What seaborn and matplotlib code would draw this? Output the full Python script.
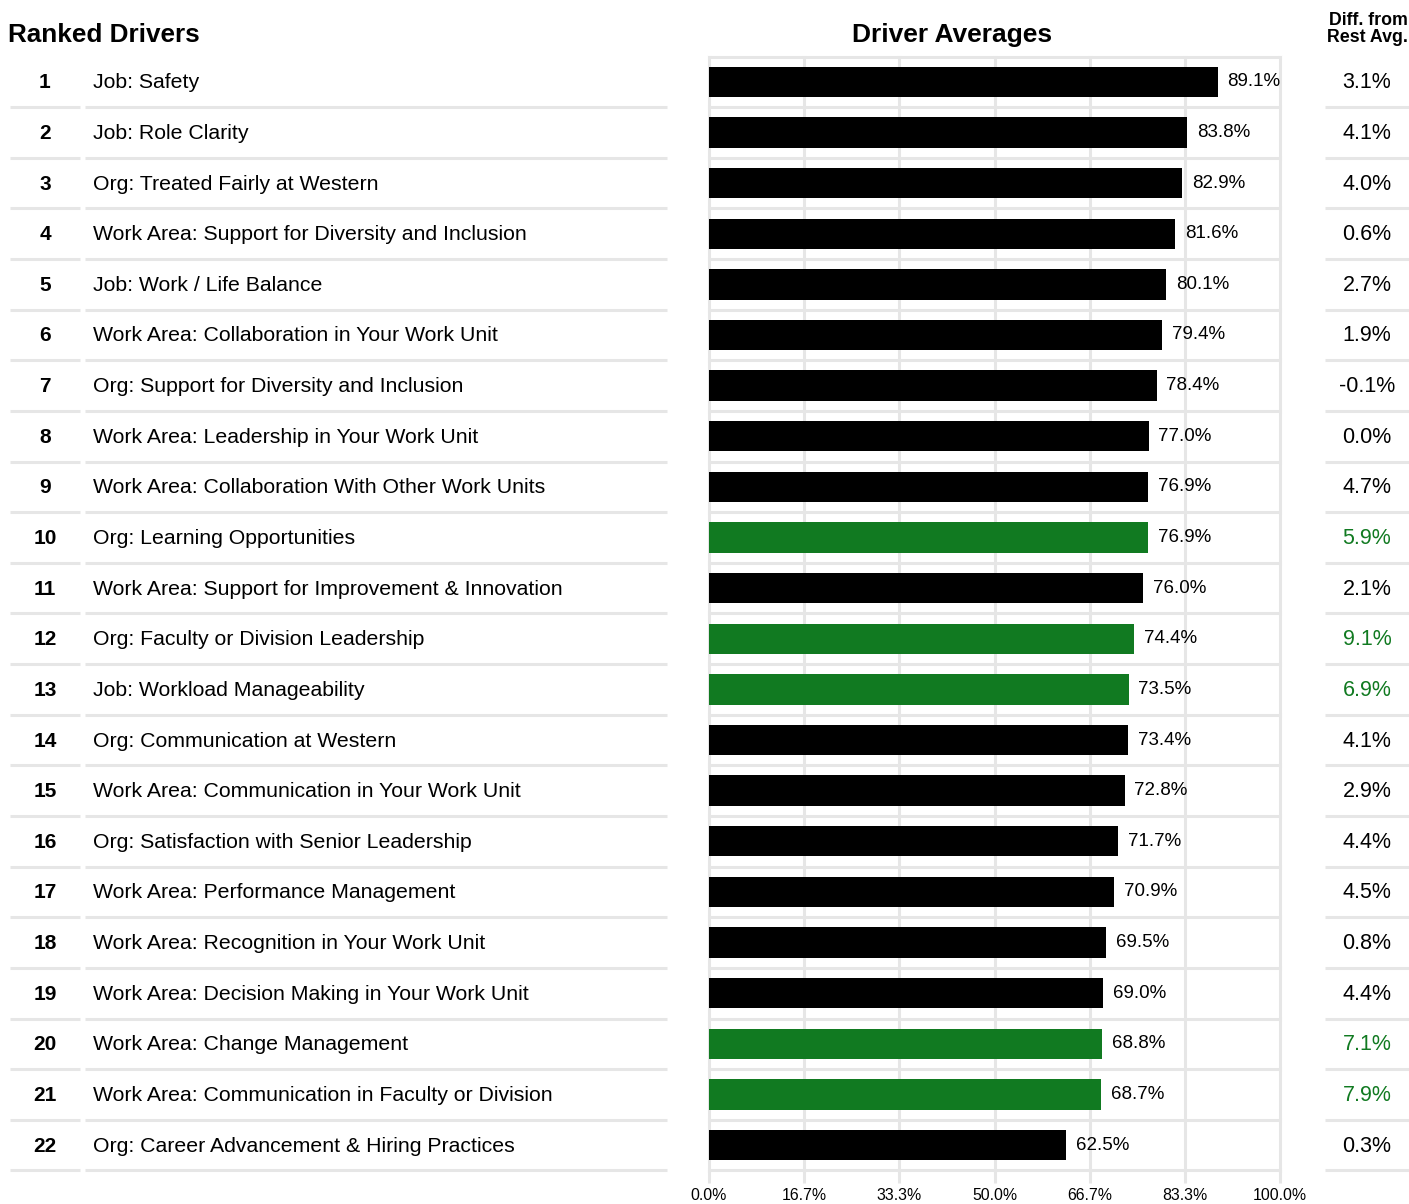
import numpy as np
import pandas as pd
import matplotlib
matplotlib.use("Agg")
import matplotlib.pyplot as plt
import seaborn as sns

# -----------------------------
# DATA
# -----------------------------
drivers = [
    "Job: Safety",
    "Job: Role Clarity",
    "Org: Treated Fairly at Western",
    "Work Area: Support for Diversity and Inclusion",
    "Job: Work / Life Balance",
    "Work Area: Collaboration in Your Work Unit",
    "Org: Support for Diversity and Inclusion",
    "Work Area: Leadership in Your Work Unit",
    "Work Area: Collaboration With Other Work Units",
    "Org: Learning Opportunities",
    "Work Area: Support for Improvement & Innovation",
    "Org: Faculty or Division Leadership",
    "Job: Workload Manageability",
    "Org: Communication at Western",
    "Work Area: Communication in Your Work Unit",
    "Org: Satisfaction with Senior Leadership",
    "Work Area: Performance Management",
    "Work Area: Recognition in Your Work Unit",
    "Work Area: Decision Making in Your Work Unit",
    "Work Area: Change Management",
    "Work Area: Communication in Faculty or Division",
    "Org: Career Advancement & Hiring Practices",
]
averages = [89.1, 83.8, 82.9, 81.6, 80.1, 79.4, 78.4, 77.0, 76.9, 76.9, 76.0,
            74.4, 73.5, 73.4, 72.8, 71.7, 70.9, 69.5, 69.0, 68.8, 68.7, 62.5]
diffs = [3.1, 4.1, 4.0, 0.6, 2.7, 1.9, -0.1, 0.0, 4.7, 5.9, 2.1,
         9.1, 6.9, 4.1, 2.9, 4.4, 4.5, 0.8, 4.4, 7.1, 7.9, 0.3]
highlight = [False, False, False, False, False, False, False, False, False, True, False,
             True, True, False, False, False, False, False, False, True, True, False]
ranks = list(range(1, len(drivers) + 1))
x_ticks = [0.0, 16.7, 33.3, 50.0, 66.7, 83.3, 100.0]

GREEN = "#117a21"
GRID = "#e6e6e6"

df = pd.DataFrame({"driver": drivers, "avg": averages, "diff": diffs, "hl": highlight})

# -----------------------------
# FIGURE LAYOUT (pixel based)
# -----------------------------
W, H = 1409, 1204
plt.rcParams["font.family"] = ["Liberation Sans", "DejaVu Sans"]
fig = plt.figure(figsize=(W / 100, H / 100), dpi=100)

top_px, bot_px = 56.5, 1170.4
x0_px, x1_px = 709, 1280
ax = fig.add_axes([x0_px / W, 1 - bot_px / H, (x1_px - x0_px) / W, (bot_px - top_px) / H])

colors = [GREEN if h else "black" for h in highlight]
sns.barplot(data=df, x="avg", y="driver", hue="driver", palette=colors,
            legend=False, width=0.6, ax=ax, saturation=1, zorder=3)

ax.set_xlim(0, 100)
ax.set_ylim(len(drivers) - 0.5, -0.5)
ax.set_xticks(np.linspace(0, 100, 7))
ax.set_xticklabels([f"{t:.1f}%" for t in x_ticks], fontsize=11.4)
ax.set_yticks([])
ax.set_xlabel("")
ax.set_ylabel("")
ax.grid(False)
for t in np.linspace(0, 100, 7):
    ax.axvline(t, color=GRID, lw=2.2, zorder=1, clip_on=False)
for y in np.arange(-0.5, len(drivers)):
    ax.axhline(y, color=GRID, lw=2.2, zorder=1, clip_on=False)
for s in ax.spines.values():
    s.set_visible(False)
ax.tick_params(axis="x", length=9, width=2.2, color=GRID, pad=4)
ax.tick_params(axis="y", which="both", length=0)

for c in ax.containers:
    ax.bar_label(c, labels=[f"{v:.1f}%" for v in c.datavalues], padding=7, fontsize=13.5)

# -----------------------------
# TABLE OVERLAY (ranks, names, diffs)
# -----------------------------
tab = fig.add_axes([0, 1 - bot_px / H, 1, (bot_px - top_px) / H], sharey=ax)
tab.set_xlim(0, W)
tab.axis("off")
tab.patch.set_alpha(0)
for i, (r, name, d, h) in enumerate(zip(ranks, drivers, diffs, highlight)):
    yt = i + 0.02
    tab.text(45, yt, str(r), ha="center", va="center", fontsize=15, fontweight="bold")
    tab.text(93, yt, name, ha="left", va="center", fontsize=15.3)
    tab.text(1367, yt, f"{d:.1f}%", ha="center", va="center", fontsize=15.5,
             color=GREEN if h else "black")
    for xa, xb in [(10, 80), (85, 667), (1325, 1409)]:
        tab.plot([xa, xb], [i + 0.5, i + 0.5], color=GRID, lw=2.2,
                 solid_capstyle="butt", clip_on=False)

# -----------------------------
# HEADERS
# -----------------------------
fig.text(8 / W, 1 - 35 / H, "Ranked Drivers", ha="left", va="center",
         fontsize=18.8, fontweight="bold")
fig.text(952 / W, 1 - 35 / H, "Driver Averages", ha="center", va="center",
         fontsize=19, fontweight="bold")
fig.text(1408 / W, 1 - 29 / H, "Diff. from\nRest Avg.", ha="right", va="center",
         fontsize=12.8, fontweight="bold", linespacing=1.0)

plt.savefig("out.png", dpi=100)
plt.close()
